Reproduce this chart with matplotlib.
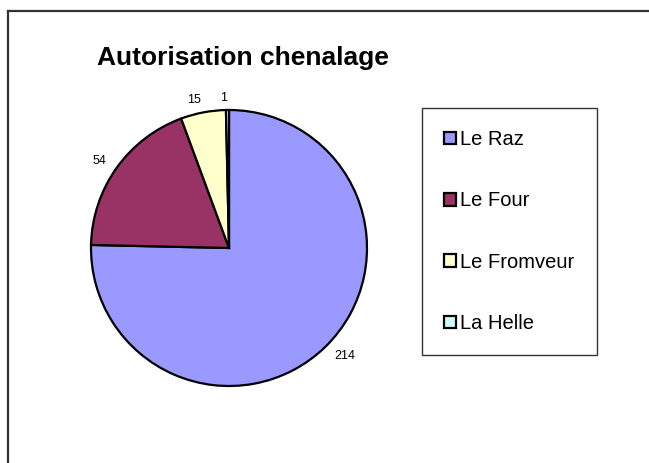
import matplotlib
matplotlib.use("Agg")
import matplotlib.pyplot as plt
from matplotlib.lines import Line2D

plt.rcParams["font.family"] = ["Liberation Sans", "DejaVu Sans"]

# data
labels = ["Le Raz", "Le Four", "Le Fromveur", "La Helle"]
values = [214, 54, 15, 1]
colors = ["#9999FF", "#993366", "#FFFFCC", "#CCFFFF"]

W, H = 649, 463
fig = plt.figure(figsize=(W / 100, H / 100), dpi=100)
fig.patch.set_facecolor("white")

# chart area frame (only top / left edges visible)
fig.add_artist(Line2D([7.5 / W, 7.5 / W], [0, 1 - 10.5 / H], transform=fig.transFigure,
                      color="#333333", lw=1.6))
fig.add_artist(Line2D([7.5 / W, 1], [1 - 10.5 / H, 1 - 10.5 / H], transform=fig.transFigure,
                      color="#333333", lw=1.6))

fig.text(97 / W, 1 - 58 / H, "Autorisation chenalage", fontsize=19, fontweight="bold",
         ha="left", va="center")

# pie: centre (229, 248), radius 138 px
cx, cy, r = 229, 248, 138
ax = fig.add_axes([(cx - r) / W, (H - cy - r) / H, 2 * r / W, 2 * r / H])
wedges, texts = ax.pie(values, colors=colors, startangle=90, counterclock=False,
                       labels=[str(v) for v in values], labeldistance=1.09,
                       wedgeprops=dict(edgecolor="black", linewidth=1.6),
                       textprops=dict(fontsize=9))
ax.set_xlim(-1, 1)
ax.set_ylim(-1, 1)
ax.axis("off")

leg = fig.legend(wedges, labels, loc="upper left",
                 bbox_to_anchor=(422 / W, 1 - 108 / H), bbox_transform=fig.transFigure,
                 fontsize=14.5, frameon=True, fancybox=False, edgecolor="black",
                 handlelength=0.6, handleheight=0.6, handletextpad=0.2,
                 labelspacing=2.1, borderpad=1.1, borderaxespad=0)
leg.get_frame().set_linewidth(1.0)

fig.savefig("out.png", dpi=100)
